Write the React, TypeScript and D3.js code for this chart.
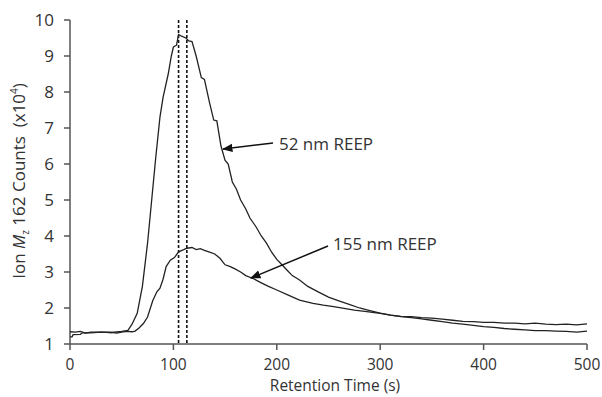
import React from "react";
import * as d3 from "d3";

const xTicks = [0, 100, 200, 300, 400, 500];
const yTicks = [1, 2, 3, 4, 5, 6, 7, 8, 9, 10];

const t52 = [0, 2, 3, 10, 12, 20, 30, 40, 50, 56, 60, 65, 70, 75, 79, 83, 87, 90, 95, 98, 100, 103, 105, 108, 112, 115, 118, 122, 127, 130, 135, 139, 142, 146, 150, 153, 157, 161, 165, 170, 174, 180, 185, 190, 195, 200, 205, 210, 215, 222, 230, 240, 250, 260, 270, 280, 290, 300, 310, 320, 330, 340, 350, 360, 370, 380, 390, 400, 410, 420, 430, 440, 450, 460, 470, 480, 490, 500];
const v52 = [1.2, 1.2, 1.26, 1.27, 1.31, 1.31, 1.33, 1.32, 1.35, 1.38, 1.55, 1.85, 2.6, 3.8, 5.0, 6.2, 7.3, 7.85, 8.5, 9.0, 9.25, 9.3, 9.6, 9.55, 9.5, 9.42, 9.4, 9.0, 8.4, 8.35, 7.7, 7.22, 7.2, 6.5, 6.1, 6.0, 5.5, 5.3, 5.0, 4.75, 4.5, 4.25, 4.0, 3.8, 3.55, 3.35, 3.2, 3.05, 2.9, 2.78, 2.6, 2.45, 2.3, 2.2, 2.1, 2.0, 1.93, 1.86, 1.8, 1.76, 1.73, 1.7, 1.66, 1.62, 1.58, 1.55, 1.52, 1.48, 1.46, 1.43, 1.41, 1.39, 1.37, 1.37, 1.36, 1.35, 1.33, 1.36];

const t155 = [0, 5, 10, 15, 20, 30, 40, 45, 50, 55, 60, 63, 67, 71, 75, 80, 84, 87, 90, 93, 97, 101, 105, 110, 113, 118, 122, 126, 130, 135, 140, 145, 150, 155, 160, 165, 170, 177, 185, 192, 200, 210, 222, 235, 245, 255, 265, 275, 287, 300, 310, 320, 330, 340, 350, 360, 370, 380, 390, 400, 410, 420, 430, 440, 450, 460, 470, 480, 490, 500];
const v155 = [1.34, 1.33, 1.35, 1.3, 1.33, 1.33, 1.32, 1.3, 1.33, 1.35, 1.34, 1.36, 1.45, 1.57, 1.75, 2.2, 2.45, 2.55, 2.8, 3.15, 3.33, 3.4, 3.56, 3.62, 3.66, 3.68, 3.62, 3.65, 3.6, 3.55, 3.5, 3.38, 3.2, 3.15, 3.08, 3.0, 2.9, 2.82, 2.7, 2.6, 2.5, 2.37, 2.22, 2.13, 2.08, 2.04, 1.99, 1.94, 1.9, 1.85, 1.8, 1.77, 1.76, 1.73, 1.72, 1.69, 1.66, 1.63, 1.62, 1.6, 1.6, 1.58, 1.58, 1.56, 1.58, 1.55, 1.54, 1.55, 1.53, 1.56];

const dashedTimes = [105, 113];
const labels = ["52 nm REEP", "155 nm REEP"];

export default function App() {
  const W = 602, H = 397;
  const x = d3.scaleLinear().domain([0, 500]).range([70, 587]);
  const y = d3.scaleLinear().domain([1, 10]).range([344, 20]);
  const line = d3.line<[number, number]>().x(d => x(d[0])).y(d => y(d[1]));
  const d52 = line(t52.map((t, i) => [t, v52[i]] as [number, number])) || "";
  const d155 = line(t155.map((t, i) => [t, v155[i]] as [number, number])) || "";
  const font = "'Open Sans', 'Noto Sans', sans-serif";
  const txt = "#333";
  const axisCol = "#555";
  return (
    <svg width={W} height={H} style={{ position: "absolute", left: 0, top: 0, background: "#fff" }} fontFamily={font}>
      <defs>
        <marker id="arr" viewBox="0 0 10 10" refX="9" refY="5" markerWidth="7" markerHeight="7" orient="auto">
          <path d="M0,1 L10,5 L0,9 Z" fill="#111" />
        </marker>
      </defs>
      <line x1={x(0)} x2={x(0)} y1={y(10)} y2={y(1)} stroke={axisCol} strokeWidth={1.5} />
      <line x1={x(0)} x2={x(500)} y1={y(1)} y2={y(1)} stroke={axisCol} strokeWidth={1.5} />
      {yTicks.map(v => (
        <g key={"y" + v}>
          <line x1={x(0) - 6} x2={x(0)} y1={y(v)} y2={y(v)} stroke={axisCol} strokeWidth={1.5} />
          <text x={x(0) - 16} y={y(v)} dy="0.36em" textAnchor="end" fontSize={17} fill={txt}>{v}</text>
        </g>
      ))}
      {xTicks.map(v => (
        <g key={"x" + v}>
          <line x1={x(v)} x2={x(v)} y1={y(1)} y2={y(1) + 6} stroke={axisCol} strokeWidth={1.5} />
          <text x={x(v)} y={y(1) + 26} textAnchor="middle" fontSize={15.5} fill={txt}>{v}</text>
        </g>
      ))}
      <text x={335} y={391} textAnchor="middle" fontSize={15.5} fill={txt}>Retention Time (s)</text>
      <text transform="translate(25,181) rotate(-90)" textAnchor="middle" fontSize={17} fill={txt}>
        Ion <tspan fontStyle="italic">M</tspan><tspan fontSize={10} dy={4}>z</tspan>
        <tspan dy={-4}>{" 162 Counts\u00A0\u00A0(x10"}</tspan><tspan fontSize={10} dy={-7}>4</tspan><tspan dy={7}>)</tspan>
      </text>
      {dashedTimes.map(t => (
        <line key={"d" + t} x1={x(t)} x2={x(t)} y1={y(10)} y2={y(1)} stroke="#111" strokeWidth={1.6} strokeDasharray="3,2" />
      ))}
      <path d={d155} fill="none" stroke="#222" strokeWidth={1.3} />
      <path d={d52} fill="none" stroke="#222" strokeWidth={1.3} />
      <line x1={273} y1={143} x2={223} y2={149} stroke="#111" strokeWidth={1.5} markerEnd="url(#arr)" />
      <text x={279} y={150} fontSize={17} fill={txt}>{labels[0]}</text>
      <line x1={328} y1={246} x2={251} y2={278} stroke="#111" strokeWidth={1.5} markerEnd="url(#arr)" />
      <text x={333} y={250} fontSize={17} fill={txt}>{labels[1]}</text>
    </svg>
  );
}
